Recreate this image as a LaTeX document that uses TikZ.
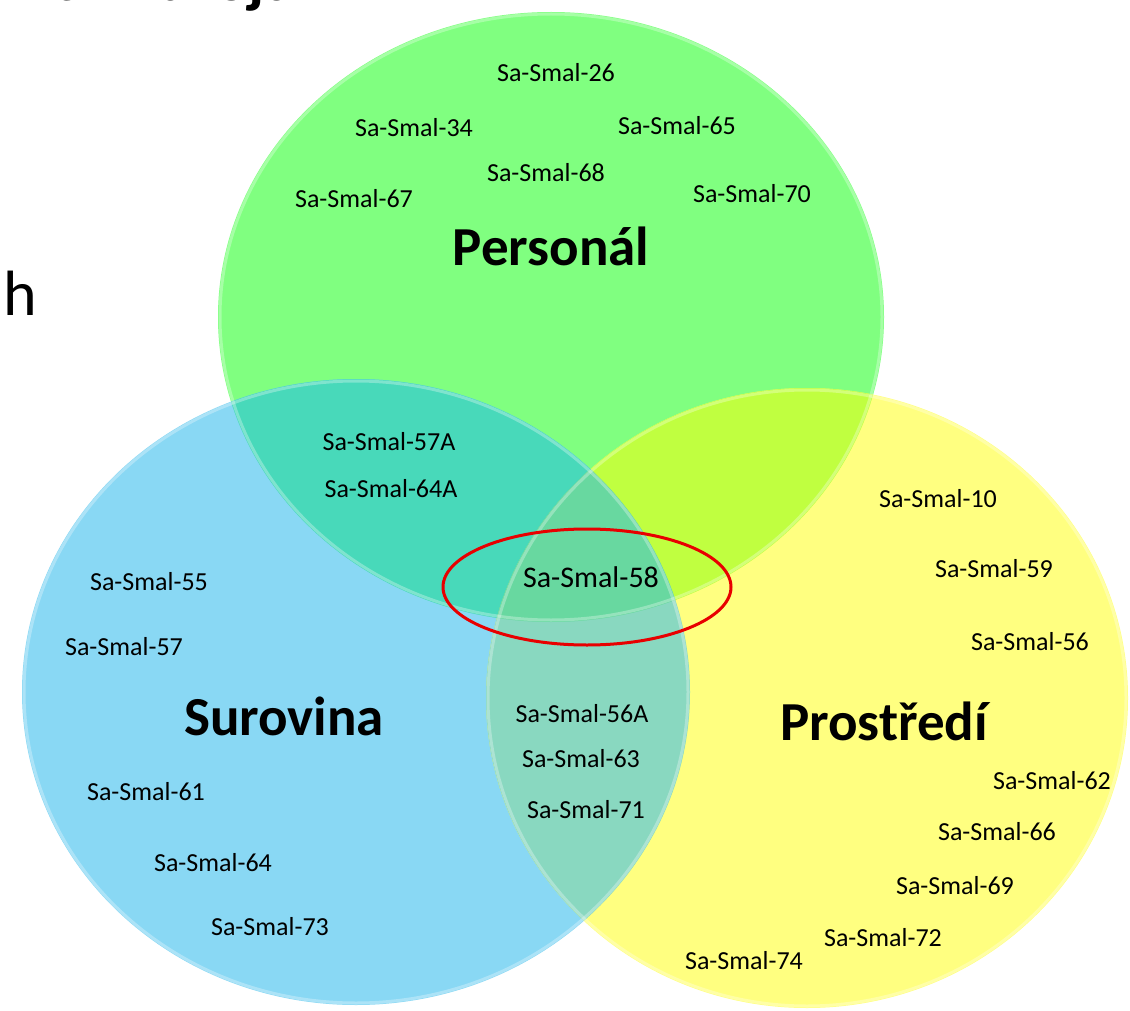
\documentclass[tikz,border=0pt]{standalone}
\usepackage{fontspec}
\setmainfont{Carlito}
\definecolor{gcol}{RGB}{128,255,128}
\definecolor{bcol}{RGB}{137,216,244}
\definecolor{ycol}{RGB}{255,255,128}
\definecolor{gbcol}{RGB}{72,217,186}
\definecolor{gycol}{RGB}{192,255,64}
\definecolor{bycol}{RGB}{137,216,192}
\definecolor{gbycol}{RGB}{104,216,160}
\definecolor{redring}{RGB}{232,0,0}
\def\Gpath{(551,317) ellipse [x radius=333, y radius=305]}
\def\Bpath{(356,692) ellipse [x radius=334, y radius=313]}
\def\Ypath{(807,698) ellipse [x radius=321, y radius=310]}
\tikzset{
  lbl/.style={font=\fontsize{26}{30}\selectfont, inner sep=0pt},
  biglbl/.style={font=\fontsize{30}{34}\selectfont, inner sep=0pt},
  title/.style={font=\fontsize{55}{60}\selectfont\bfseries, inner sep=0pt},
  head/.style={font=\fontsize{64}{70}\selectfont, inner sep=0pt},
  rim/.style={draw=white, draw opacity=0.3, line width=3pt}
}
\begin{document}
\begin{tikzpicture}[x=1pt,y=-1pt]
\useasboundingbox (0,0) rectangle (1130,1011);
\clip (0,0) rectangle (1130,1011);
\fill[white] (0,0) rectangle (1130,1011);
% base fills
\fill[gcol] \Gpath;
\fill[bcol] \Bpath;
\fill[ycol] \Ypath;
% overlaps
\begin{scope}\clip \Gpath; \fill[gbcol] \Bpath; \end{scope}
\begin{scope}\clip \Gpath; \fill[gycol] \Ypath; \end{scope}
\begin{scope}\clip \Bpath; \fill[bycol] \Ypath; \end{scope}
\begin{scope}\clip \Gpath; \clip \Bpath; \fill[gbycol] \Ypath; \end{scope}
% soft rims
\draw[rim] (551,317) ellipse [x radius=331, y radius=303];
\draw[rim] (356,692) ellipse [x radius=332, y radius=311];
\draw[rim] (807,698) ellipse [x radius=319, y radius=308];
% cropped heading fragments
\node[head, font=\fontsize{64}{70}\selectfont\bfseries, anchor=base west] (headtop) at (52,1) {ch Zdroja};
\node[head, anchor=base west] (headh) at (3,315) {h};
% Personal
\node[title] (personal) at (551,246) {Personál};
\node[lbl] (s26) at (556,73) {Sa-Smal-26};
\node[lbl] (s34) at (414,128) {Sa-Smal-34};
\node[lbl] (s65) at (677,126) {Sa-Smal-65};
\node[lbl] (s68) at (546,173) {Sa-Smal-68};
\node[lbl] (s67) at (354,199) {Sa-Smal-67};
\node[lbl] (s70) at (752,194) {Sa-Smal-70};
% Personal & Surovina
\node[lbl] (s57a) at (389,442) {Sa-Smal-57A};
\node[lbl] (s64a) at (391,489) {Sa-Smal-64A};
% centre
\node[biglbl] (s58) at (591,577) {Sa-Smal-58};
\draw[redring, line width=3pt] (587,587) ellipse [x radius=144, y radius=58];
% Surovina
\node[title] (surovina) at (284,716) {Surovina};
\node[lbl] (s55) at (149,582) {Sa-Smal-55};
\node[lbl] (s57) at (124,647) {Sa-Smal-57};
\node[lbl] (s61) at (146,792) {Sa-Smal-61};
\node[lbl] (s64) at (213,863) {Sa-Smal-64};
\node[lbl] (s73) at (270,927) {Sa-Smal-73};
% Surovina & Prostredi
\node[lbl] (s56a) at (582,714) {Sa-Smal-56A};
\node[lbl] (s63) at (581,759) {Sa-Smal-63};
\node[lbl] (s71) at (586,810) {Sa-Smal-71};
% Prostredi
\node[title] (prostredi) at (884,721) {Prostředí};
\node[lbl] (s10) at (938,499) {Sa-Smal-10};
\node[lbl] (s59) at (994,569) {Sa-Smal-59};
\node[lbl] (s56) at (1030,642) {Sa-Smal-56};
\node[lbl] (s62) at (1052,781) {Sa-Smal-62};
\node[lbl] (s66) at (997,832) {Sa-Smal-66};
\node[lbl] (s69) at (955,886) {Sa-Smal-69};
\node[lbl] (s72) at (883,938) {Sa-Smal-72};
\node[lbl] (s74) at (744,961) {Sa-Smal-74};
\end{tikzpicture}
\end{document}
